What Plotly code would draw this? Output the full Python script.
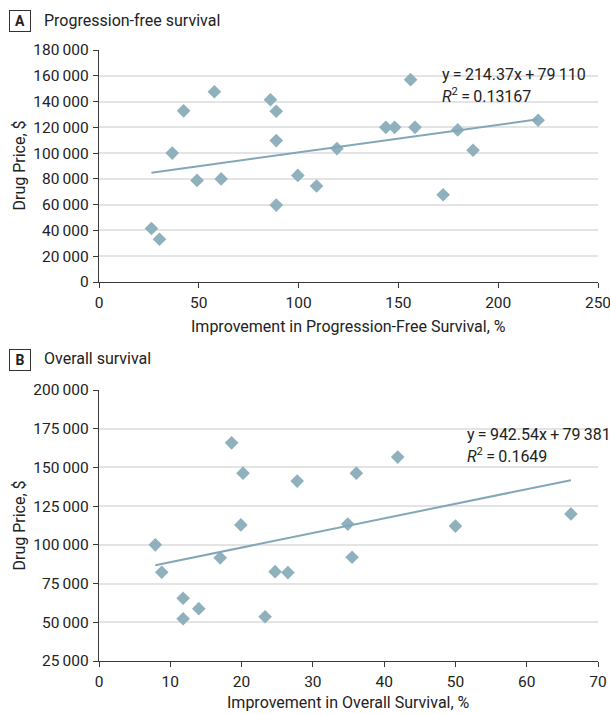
import plotly.graph_objects as go
from plotly.subplots import make_subplots

# ---------------- data ----------------
pfs_improvement = [26.3, 30.3, 36.7, 42.4, 49.1, 57.8, 61.2, 85.9, 88.8, 88.8, 88.8,
                   99.6, 109.0, 119.2, 143.7, 148.1, 156.1, 158.3, 172.4, 179.7, 187.4, 220.0]
pfs_price = [41500, 33200, 100000, 132800, 78800, 147600, 80000, 141400, 132500, 109700, 59700,
             82700, 74500, 103500, 120000, 120000, 157000, 120000, 67700, 118000, 102200, 125500]
pfs_slope, pfs_intercept = 214.37, 79110
pfs_eq = "y\u2009=\u2009214.37x\u2009+\u200979\u2009110"
pfs_r2 = "<i>R</i><sup>2</sup>\u2009=\u20090.13167"

os_improvement = [7.9, 8.8, 11.8, 11.8, 14.0, 17.0, 18.6, 20.2, 19.9, 23.3, 24.7, 26.5,
                  27.8, 34.9, 35.5, 36.1, 41.9, 50.0, 66.2]
os_price = [100000, 82300, 65500, 52300, 58800, 91600, 165900, 146300, 112900, 53600, 82700,
            82100, 141200, 113400, 92000, 146300, 156700, 112100, 120000]
os_slope, os_intercept = 942.54, 79381
os_eq = "y\u2009=\u2009942.54x\u2009+\u200979\u2009381"
os_r2 = "<i>R</i><sup>2</sup>\u2009=\u20090.1649"

pfs_yticks = [0, 20000, 40000, 60000, 80000, 100000, 120000, 140000, 160000, 180000]
os_yticks = [25000, 50000, 75000, 100000, 125000, 150000, 175000, 200000]
pfs_xticks = [0, 50, 100, 150, 200, 250]
os_xticks = [0, 10, 20, 30, 40, 50, 60, 70]

panel_a_title = "Progression-free survival"
panel_b_title = "Overall survival"
pfs_xtitle = "Improvement in Progression-Free Survival, %"
os_xtitle = "Improvement in Overall Survival, %"
ytitle = "Drug Price, $"


def fmt(v):
    s = f"{v:,}"
    return s.replace(",", "\u2009")


# ---------------- styling ----------------
FONT = "Roboto"
MARK = "#8fb1be"
LINE = "#82a7b6"
AXIS = "#3a3a3a"
GRID = "#e4e4e4"
TXT = "#222222"

W, H = 610, 714
ML, MR, MT, MB = 99, 12, 50, 53
PW, PH = W - ML - MR, H - MT - MB


def px(x):
    return (x - ML) / PW


def py(y):
    return (H - MB - y) / PH


fig = make_subplots(rows=2, cols=1)

fig.add_trace(go.Scatter(x=pfs_improvement, y=pfs_price, mode="markers",
                         marker=dict(symbol="diamond", size=10.5, color=MARK),
                         showlegend=False), row=1, col=1)
xa = [min(pfs_improvement), max(pfs_improvement)]
fig.add_trace(go.Scatter(x=xa, y=[pfs_slope * v + pfs_intercept for v in xa], mode="lines",
                         line=dict(color=LINE, width=2), showlegend=False), row=1, col=1)

fig.add_trace(go.Scatter(x=os_improvement, y=os_price, mode="markers",
                         marker=dict(symbol="diamond", size=10.5, color=MARK),
                         showlegend=False), row=2, col=1)
xb = [min(os_improvement), max(os_improvement)]
fig.add_trace(go.Scatter(x=xb, y=[os_slope * v + os_intercept for v in xb], mode="lines",
                         line=dict(color=LINE, width=2), showlegend=False), row=2, col=1)

axis_common = dict(showline=True, linecolor=AXIS, linewidth=1.3, ticks="outside",
                   ticklen=5, tickwidth=1.2, tickcolor=AXIS, zeroline=False,
                   automargin=False, ticklabelstandoff=1, ticklabeloverflow="allow",
                   tickfont=dict(family=FONT, size=15.5, color=TXT))

top_bottom = py(282)
bot_top = py(390)

fig.update_xaxes(domain=[0, 1], range=[0, 250], tickvals=pfs_xticks,
                 ticktext=[str(v) for v in pfs_xticks], showgrid=False, **axis_common,
                 row=1, col=1)
fig.update_yaxes(domain=[top_bottom, 1], range=[0, 180000], tickvals=pfs_yticks,
                 ticktext=[fmt(v) for v in pfs_yticks], showgrid=True, gridcolor=GRID,
                 gridwidth=2, **axis_common, row=1, col=1)
fig.update_xaxes(domain=[0, 1], range=[0, 70], tickvals=os_xticks,
                 ticktext=[str(v) for v in os_xticks], showgrid=False, **axis_common,
                 row=2, col=1)
fig.update_yaxes(domain=[0, bot_top], range=[25000, 200000], tickvals=os_yticks,
                 ticktext=[fmt(v) for v in os_yticks], showgrid=True, gridcolor=GRID,
                 gridwidth=2, **axis_common, row=2, col=1)

ann = []


def text(x, y, t, size=16, xanchor="left", angle=0, **kw):
    ann.append(dict(x=px(x), y=py(y), xref="paper", yref="paper", text=t, showarrow=False,
                    xanchor=xanchor, yanchor="middle", textangle=angle,
                    font=dict(family=FONT, size=size, color=TXT), **kw))


# panel labels
text(20, 21, "<b>A</b>", size=14, xanchor="center", bordercolor="#333333", borderwidth=1,
     borderpad=2, width=16, height=16)
text(42, 20, panel_a_title, size=16)
text(20, 360, "<b>B</b>", size=14, xanchor="center", bordercolor="#333333", borderwidth=1,
     borderpad=2, width=16, height=16)
text(42, 358, panel_b_title, size=16)

# axis titles
text(348.5, 326, pfs_xtitle, size=16, xanchor="center")
text(348.5, 702, os_xtitle, size=16, xanchor="center")
text(19, 165.5, ytitle, size=16, xanchor="center", angle=-90)
text(19, 525.5, ytitle, size=16, xanchor="center", angle=-90)

# equations
text(440, 75, pfs_eq, size=16)
text(440, 96, pfs_r2, size=16)
text(465, 434, os_eq, size=16)
text(465, 455, os_r2, size=16)

fig.update_layout(width=W, height=H, margin=dict(l=ML, r=MR, t=MT, b=MB),
                  paper_bgcolor="white", plot_bgcolor="white", annotations=ann,
                  font=dict(family=FONT, color=TXT))

fig.write_html("out.html", config={"displayModeBar": False},
               post_script="document.body.style.margin='0px';document.body.style.overflow='hidden';")
